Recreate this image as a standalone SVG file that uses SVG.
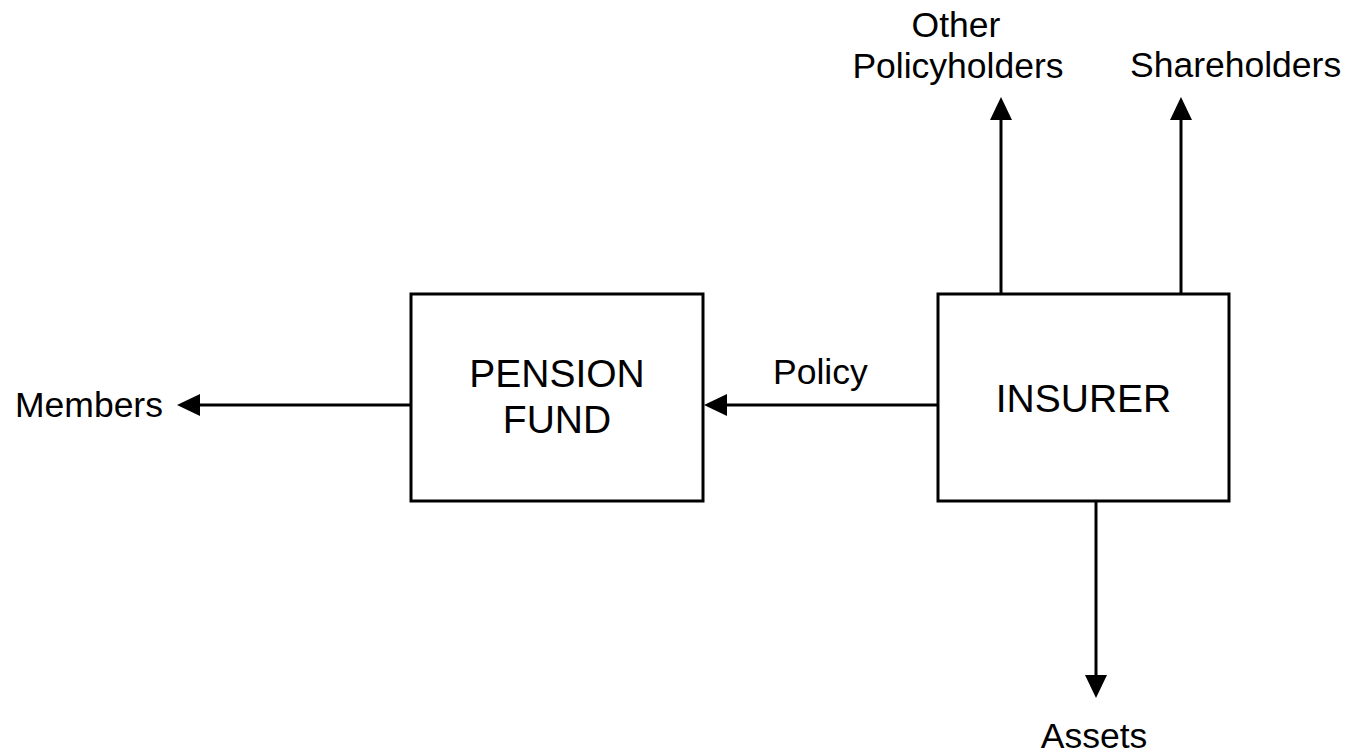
<svg xmlns="http://www.w3.org/2000/svg" width="1350" height="754" viewBox="0 0 1350 754">
<style>
.box{fill:#fff;stroke:#000;stroke-width:3}
.conn{fill:none;stroke:#000;stroke-width:3}
.lbl{font-family:"Liberation Sans",Arial,sans-serif;font-size:35.5px;fill:#000}
.big{font-family:"Liberation Sans",Arial,sans-serif;font-size:39px;fill:#000;text-anchor:middle}
</style>
<defs>
<marker id="ah" markerUnits="userSpaceOnUse" markerWidth="24" markerHeight="23" refX="0" refY="11" orient="auto">
<path d="M0,0 L23,11 L0,22 z" fill="#000"/>
</marker>
</defs>
<rect width="1350" height="754" fill="#fff"/>
<g id="connectors">
<path class="conn" d="M411,405 L200,405" marker-end="url(#ah)"/>
<path class="conn" d="M938,405 L727,405" marker-end="url(#ah)"/>
<path class="conn" d="M1001,294 L1001,120" marker-end="url(#ah)"/>
<path class="conn" d="M1181,294 L1181,120" marker-end="url(#ah)"/>
<path class="conn" d="M1096,501 L1096,675" marker-end="url(#ah)"/>
</g>
<g id="pension-fund">
<rect class="box" x="411" y="294" width="292" height="207"/>
<text class="big" x="557" y="387">PENSION</text>
<text class="big" x="557" y="433">FUND</text>
</g>
<g id="insurer">
<rect class="box" x="938" y="294" width="291" height="207"/>
<text class="big" x="1083.5" y="412">INSURER</text>
</g>
<g id="members"><text class="lbl" x="15" y="417">Members</text></g>
<g id="policy-label"><text class="lbl" x="773" y="384">Policy</text></g>
<g id="other-policyholders">
<text class="lbl" x="956" y="37" text-anchor="middle">Other</text>
<text class="lbl" x="958" y="78" text-anchor="middle">Policyholders</text>
</g>
<g id="shareholders"><text class="lbl" x="1130" y="77">Shareholders</text></g>
<g id="assets"><text class="lbl" x="1094" y="748" text-anchor="middle">Assets</text></g>
</svg>
